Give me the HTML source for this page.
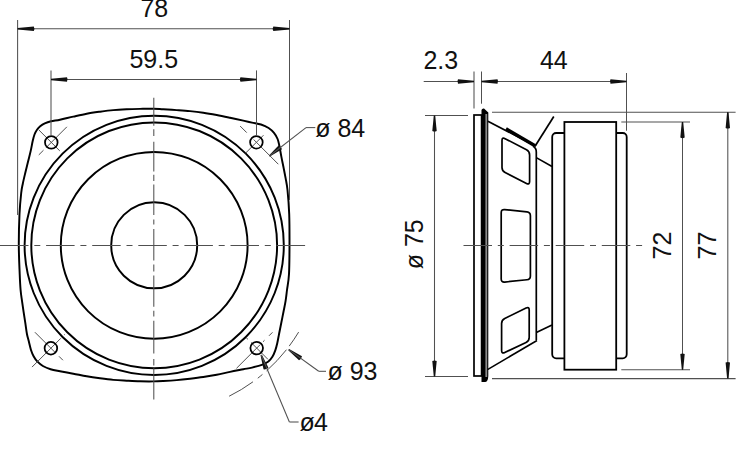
<!DOCTYPE html>
<html><head><meta charset="utf-8"><style>
html,body{margin:0;padding:0;background:#fff;width:750px;height:458px;overflow:hidden}
svg{display:block}
text{font-family:"Liberation Sans",sans-serif;fill:#111}
</style></head><body>
<svg width="750" height="458" viewBox="0 0 750 458">
<path d="M60 119.7 C63.72 118.92 68.85 117.6 73.3 116.6 C77.75 115.6 82.25 114.52 86.7 113.7 C91.15 112.88 95.57 112.3 100 111.7 C104.43 111.1 108.85 110.5 113.3 110.1 C117.75 109.7 122.25 109.5 126.7 109.3 C131.15 109.1 135.57 109 140 108.9 C144.43 108.8 149.42 108.63 153.3 108.7 C157.18 108.77 159.4 109.07 163.3 109.3 C167.2 109.53 172.25 109.8 176.7 110.1 C181.15 110.4 185.57 110.67 190 111.1 C194.43 111.53 198.85 112.05 203.3 112.7 C207.75 113.35 212.25 114.17 216.7 115 C221.15 115.83 225.57 116.77 230 117.7 C234.43 118.63 239.63 119.78 243.3 120.6 C246.97 121.42 249.05 121.95 252 122.6 C254.95 123.25 258.23 123.6 261 124.5 C263.77 125.4 266.43 126.6 268.6 128 C270.77 129.4 272.5 131.07 274 132.9 C275.5 134.73 276.7 136.82 277.6 139 C278.5 141.18 278.78 143.1 279.4 146 C280.02 148.9 280.62 152.85 281.3 156.4 C281.98 159.95 282.78 163.67 283.5 167.3 C284.22 170.93 284.93 174.42 285.6 178.2 C286.27 181.98 286.9 184.03 287.5 190 C288.1 195.97 288.87 204.83 289.2 214 C289.53 223.17 289.53 235 289.5 245 C289.47 255 289.42 266.5 289 274 C288.58 281.5 287.57 285.52 287 290 C286.43 294.48 286.18 297.27 285.6 300.9 C285.02 304.53 284.22 308.15 283.5 311.8 C282.78 315.45 282.03 319.15 281.3 322.8 C280.57 326.45 279.77 330.33 279.1 333.7 C278.43 337.07 277.95 340.17 277.3 343 C276.65 345.83 276.02 348.4 275.2 350.7 C274.38 353 273.53 355 272.4 356.8 C271.27 358.6 270.17 360.15 268.4 361.5 C266.63 362.85 264.53 363.88 261.8 364.9 C259.07 365.92 255.08 366.87 252 367.6 C248.92 368.33 246.97 368.58 243.3 369.3 C239.63 370.02 234.43 370.98 230 371.9 C225.57 372.82 221.15 373.95 216.7 374.8 C212.25 375.65 207.75 376.35 203.3 377 C198.85 377.65 194.43 378.18 190 378.7 C185.57 379.22 181.15 379.72 176.7 380.1 C172.25 380.48 167.2 380.78 163.3 381 C159.4 381.22 157.18 381.35 153.3 381.4 C149.42 381.45 144.43 381.42 140 381.3 C135.57 381.18 131.15 380.93 126.7 380.7 C122.25 380.47 117.75 380.3 113.3 379.9 C108.85 379.5 104.43 378.9 100 378.3 C95.57 377.7 91.15 377.07 86.7 376.3 C82.25 375.53 77.75 374.53 73.3 373.7 C68.85 372.87 63.78 372.03 60 371.3 C56.22 370.57 53.45 370.18 50.6 369.3 C47.75 368.42 45.08 367.27 42.9 366 C40.72 364.73 39.05 363.33 37.5 361.7 C35.95 360.07 34.7 358.2 33.6 356.2 C32.5 354.2 31.73 352.3 30.9 349.7 C30.07 347.1 29.27 343.27 28.6 340.6 C27.93 337.93 27.45 336.67 26.9 333.7 C26.35 330.73 25.85 326.45 25.3 322.8 C24.75 319.15 24.15 315.45 23.6 311.8 C23.05 308.15 22.5 304.53 22 300.9 C21.5 297.27 20.98 294.48 20.6 290 C20.22 285.52 20 281.47 19.7 274 C19.4 266.53 18.83 255.2 18.8 245.2 C18.77 235.2 19.1 222.7 19.5 214 C19.9 205.3 20.65 198.05 21.2 193 C21.75 187.95 22.12 187.07 22.8 183.7 C23.48 180.33 24.43 176.45 25.3 172.8 C26.17 169.15 27.1 165.45 28 161.8 C28.9 158.15 29.92 154.37 30.7 150.9 C31.48 147.43 32.07 143.73 32.7 141 C33.33 138.27 33.78 136.37 34.5 134.5 C35.22 132.63 36.05 131.17 37 129.8 C37.95 128.43 38.9 127.37 40.2 126.3 C41.5 125.23 43 124.23 44.8 123.4 C46.6 122.57 48.47 121.92 51 121.3 C53.53 120.68 56.28 120.48 60 119.7 Z" fill="none" stroke="#000" stroke-width="1.95"/>
<circle cx="154.2" cy="245.3" r="43" fill="none" stroke="#000" stroke-width="1.95"/>
<circle cx="154.2" cy="245.3" r="93.4" fill="none" stroke="#000" stroke-width="1.95"/>
<circle cx="154.2" cy="245.3" r="122.9" fill="none" stroke="#000" stroke-width="1.95"/>
<circle cx="154.2" cy="245.3" r="129.6" fill="none" stroke="#000" stroke-width="1.95"/>
<line x1="0" y1="245.5" x2="305.7" y2="245.5" stroke="#505050" stroke-width="1.05" stroke-linecap="butt" stroke-dasharray="28.5 5.8 6 5.8"/>
<line x1="153.8" y1="97.8" x2="153.8" y2="125.7" stroke="#505050" stroke-width="1.05" stroke-linecap="butt"/>
<line x1="153.8" y1="129.3" x2="153.8" y2="136" stroke="#505050" stroke-width="1.05" stroke-linecap="butt"/>
<line x1="153.8" y1="141.8" x2="153.8" y2="171.4" stroke="#505050" stroke-width="1.05" stroke-linecap="butt"/>
<line x1="153.8" y1="174.8" x2="153.8" y2="181" stroke="#505050" stroke-width="1.05" stroke-linecap="butt"/>
<line x1="153.8" y1="184.5" x2="153.8" y2="215" stroke="#505050" stroke-width="1.05" stroke-linecap="butt"/>
<line x1="153.8" y1="219.4" x2="153.8" y2="224.6" stroke="#505050" stroke-width="1.05" stroke-linecap="butt"/>
<line x1="153.8" y1="229" x2="153.8" y2="260.6" stroke="#505050" stroke-width="1.05" stroke-linecap="butt"/>
<line x1="153.8" y1="264.6" x2="153.8" y2="271.4" stroke="#505050" stroke-width="1.05" stroke-linecap="butt"/>
<line x1="153.8" y1="275.4" x2="153.8" y2="306.8" stroke="#505050" stroke-width="1.05" stroke-linecap="butt"/>
<line x1="153.8" y1="310.7" x2="153.8" y2="316.6" stroke="#505050" stroke-width="1.05" stroke-linecap="butt"/>
<line x1="153.8" y1="320.8" x2="153.8" y2="353.4" stroke="#505050" stroke-width="1.05" stroke-linecap="butt"/>
<line x1="153.8" y1="359" x2="153.8" y2="365.5" stroke="#505050" stroke-width="1.05" stroke-linecap="butt"/>
<line x1="153.8" y1="368.2" x2="153.8" y2="399.6" stroke="#505050" stroke-width="1.05" stroke-linecap="butt"/>
<line x1="46.35" y1="147.35" x2="66.86" y2="126.84" stroke="#505050" stroke-width="1" stroke-linecap="butt"/>
<line x1="38.78" y1="154.92" x2="43.52" y2="150.18" stroke="#505050" stroke-width="1" stroke-linecap="butt"/>
<line x1="59.79" y1="150.89" x2="38.78" y2="129.88" stroke="#505050" stroke-width="1" stroke-linecap="butt"/>
<circle cx="51.3" cy="142.4" r="6.3" fill="#fff" fill-opacity="0" stroke="#000" stroke-width="1.75"/>
<line x1="253.57" y1="139.47" x2="278.32" y2="164.22" stroke="#505050" stroke-width="1" stroke-linecap="butt"/>
<line x1="240.14" y1="126.04" x2="246.71" y2="132.61" stroke="#505050" stroke-width="1" stroke-linecap="butt"/>
<line x1="245.44" y1="153.26" x2="263.47" y2="135.23" stroke="#505050" stroke-width="1" stroke-linecap="butt"/>
<circle cx="256.4" cy="142.3" r="6.3" fill="#fff" fill-opacity="0" stroke="#000" stroke-width="1.75"/>
<line x1="55.14" y1="352.44" x2="34.92" y2="332.22" stroke="#505050" stroke-width="1" stroke-linecap="butt"/>
<line x1="62.92" y1="360.22" x2="59.03" y2="356.33" stroke="#505050" stroke-width="1" stroke-linecap="butt"/>
<line x1="60.8" y1="338.3" x2="32.02" y2="367.08" stroke="#505050" stroke-width="1" stroke-linecap="butt"/>
<line x1="64.69" y1="334.41" x2="63.98" y2="335.12" stroke="#505050" stroke-width="1" stroke-linecap="butt"/>
<circle cx="50.9" cy="348.2" r="6.3" fill="#fff" fill-opacity="0" stroke="#000" stroke-width="1.75"/>
<line x1="260.24" y1="344.56" x2="236.48" y2="368.32" stroke="#505050" stroke-width="1" stroke-linecap="butt"/>
<line x1="264.55" y1="340.25" x2="262.99" y2="341.81" stroke="#505050" stroke-width="1" stroke-linecap="butt"/>
<line x1="272.47" y1="332.33" x2="269" y2="335.8" stroke="#505050" stroke-width="1" stroke-linecap="butt"/>
<line x1="251.04" y1="342.44" x2="268.01" y2="359.41" stroke="#505050" stroke-width="1" stroke-linecap="butt"/>
<line x1="246.09" y1="337.49" x2="247.86" y2="339.26" stroke="#505050" stroke-width="1" stroke-linecap="butt"/>
<circle cx="256.7" cy="348.1" r="6.3" fill="#fff" fill-opacity="0" stroke="#000" stroke-width="1.75"/>
<line x1="17.6" y1="20" x2="17.6" y2="215" stroke="#505050" stroke-width="1.05" stroke-linecap="butt"/>
<line x1="289.5" y1="20" x2="289.5" y2="200" stroke="#505050" stroke-width="1.05" stroke-linecap="butt"/>
<line x1="17.6" y1="28.7" x2="289.5" y2="28.7" stroke="#505050" stroke-width="1.05" stroke-linecap="butt"/>
<path d="M17.6 29.4 L33.8 30.9 Q35 28.7 33.8 26.5 L17.6 28Z" fill="#111"/>
<path d="M289.5 28 L273.3 26.5 Q272.1 28.7 273.3 30.9 L289.5 29.4Z" fill="#111"/>
<text x="154.3" y="17" font-size="25" text-anchor="middle">78</text>
<line x1="51" y1="70.4" x2="51" y2="135.5" stroke="#505050" stroke-width="1.05" stroke-linecap="butt"/>
<line x1="256.5" y1="70.4" x2="256.5" y2="135.5" stroke="#505050" stroke-width="1.05" stroke-linecap="butt"/>
<line x1="51" y1="79.5" x2="256.5" y2="79.5" stroke="#505050" stroke-width="1.05" stroke-linecap="butt"/>
<path d="M51 80.2 L67 81.7 Q68.2 79.5 67 77.3 L51 78.8Z" fill="#111"/>
<path d="M256.5 78.8 L240.5 77.3 Q239.3 79.5 240.5 81.7 L256.5 80.2Z" fill="#111"/>
<text x="153.8" y="67.8" font-size="25" text-anchor="middle">59.5</text>
<path d="M269.83 156.55 L282.01 149.34 Q281.34 146.56 278.79 145.26 L268.97 155.45Z" fill="#111"/>
<line x1="269.4" y1="156" x2="306" y2="127.6" stroke="#505050" stroke-width="1.05" stroke-linecap="butt"/>
<line x1="306" y1="127.6" x2="315.3" y2="127.6" stroke="#505050" stroke-width="1.05" stroke-linecap="butt"/>
<text x="315.2" y="136.7" font-size="25" text-anchor="start">ø 84</text>
<path d="M298.63 332.08 A168.5 168.5 0 0 1 229.12 396.23" fill="none" stroke="#505050" stroke-width="1" stroke-dasharray="16.9 4.5 29 5.5 6 6 28"/>
<path d="M288.28 350.16 L299.02 360.31 Q301.47 359.01 301.98 356.29 L289.12 349.04Z" fill="#111"/>
<line x1="288.7" y1="349.6" x2="318.7" y2="371.3" stroke="#505050" stroke-width="1.05" stroke-linecap="butt"/>
<line x1="318.7" y1="371.3" x2="326" y2="371.3" stroke="#505050" stroke-width="1.05" stroke-linecap="butt"/>
<text x="327.5" y="380" font-size="25" text-anchor="start">ø 93</text>
<path d="M260.54 355.23 L263.55 369.37 Q266.4 369.63 268.45 367.63 L261.86 354.77Z" fill="#111"/>
<line x1="261.2" y1="355" x2="289.4" y2="422" stroke="#505050" stroke-width="1.05" stroke-linecap="butt"/>
<line x1="289.4" y1="422" x2="298.6" y2="422" stroke="#505050" stroke-width="1.05" stroke-linecap="butt"/>
<text x="299.5" y="431" font-size="25" text-anchor="start" letter-spacing="-0.8">ø4</text>
<line x1="474" y1="71.5" x2="474" y2="108.5" stroke="#505050" stroke-width="1.05" stroke-linecap="butt"/>
<line x1="481.5" y1="71.5" x2="481.5" y2="103.7" stroke="#505050" stroke-width="1.05" stroke-linecap="butt"/>
<line x1="626.5" y1="73" x2="626.5" y2="130.7" stroke="#505050" stroke-width="1.05" stroke-linecap="butt"/>
<line x1="423.7" y1="81.5" x2="474" y2="81.5" stroke="#505050" stroke-width="1.05" stroke-linecap="butt"/>
<path d="M474 80.8 L458 79.3 Q456.8 81.5 458 83.7 L474 82.2Z" fill="#111"/>
<line x1="481.5" y1="81.5" x2="626.5" y2="81.5" stroke="#505050" stroke-width="1.05" stroke-linecap="butt"/>
<path d="M481.5 82.2 L497.5 83.7 Q498.7 81.5 497.5 79.3 L481.5 80.8Z" fill="#111"/>
<path d="M626.5 80.8 L610.5 79.3 Q609.3 81.5 610.5 83.7 L626.5 82.2Z" fill="#111"/>
<text x="440.8" y="68.8" font-size="25" text-anchor="middle">2.3</text>
<text x="553.8" y="68.8" font-size="25" text-anchor="middle">44</text>
<line x1="425" y1="115.5" x2="468" y2="115.5" stroke="#505050" stroke-width="1.05" stroke-linecap="butt"/>
<line x1="425" y1="376.5" x2="468" y2="376.5" stroke="#505050" stroke-width="1.05" stroke-linecap="butt"/>
<line x1="434.5" y1="115.5" x2="434.5" y2="376.5" stroke="#505050" stroke-width="1.05" stroke-linecap="butt"/>
<path d="M433.8 115.5 L432.3 131 Q434.5 132.2 436.7 131 L435.2 115.5Z" fill="#111"/>
<path d="M435.2 376.5 L436.7 361 Q434.5 359.8 432.3 361 L433.8 376.5Z" fill="#111"/>
<text x="423.5" y="244.3" font-size="25" text-anchor="middle" transform="rotate(-90 423.5 244.3)">ø 75</text>
<line x1="621.3" y1="122" x2="690" y2="122" stroke="#505050" stroke-width="1.05" stroke-linecap="butt"/>
<line x1="621.3" y1="369.7" x2="690" y2="369.7" stroke="#505050" stroke-width="1.05" stroke-linecap="butt"/>
<line x1="682.5" y1="122" x2="682.5" y2="369.7" stroke="#505050" stroke-width="1.05" stroke-linecap="butt"/>
<path d="M681.8 122 L680.3 137.6 Q682.5 138.8 684.7 137.6 L683.2 122Z" fill="#111"/>
<path d="M683.2 369.7 L684.7 354 Q682.5 352.8 680.3 354 L681.8 369.7Z" fill="#111"/>
<text x="671.3" y="245.6" font-size="25" text-anchor="middle" transform="rotate(-90 671.3 245.6)">72</text>
<line x1="492" y1="112.3" x2="735.6" y2="112.3" stroke="#505050" stroke-width="1.05" stroke-linecap="butt"/>
<line x1="492" y1="378.6" x2="735.6" y2="378.6" stroke="#505050" stroke-width="1.05" stroke-linecap="butt"/>
<line x1="727.8" y1="112.3" x2="727.8" y2="378.6" stroke="#505050" stroke-width="1.05" stroke-linecap="butt"/>
<path d="M727.1 112.3 L725.6 128 Q727.8 129.2 730 128 L728.5 112.3Z" fill="#111"/>
<path d="M728.5 378.6 L730 362.6 Q727.8 361.4 725.6 362.6 L727.1 378.6Z" fill="#111"/>
<text x="716" y="245.6" font-size="25" text-anchor="middle" transform="rotate(-90 716 245.6)">77</text>
<rect x="474" y="115" width="7.6" height="261" fill="none" stroke="#000" stroke-width="1.7"/>
<path d="M481.5 110 Q482 108.2 484 108.5 L488.3 112.5 L488.3 376 Q488 382 485 382 L481.5 382 Z" fill="#000"/>
<rect x="485.4" y="114" width="1.8" height="263" fill="#8a8a8a"/>
<line x1="487.9" y1="121.2" x2="536" y2="146.3" stroke="#000" stroke-width="1.6" stroke-linecap="butt"/>
<line x1="506" y1="128.8" x2="535" y2="145.8" stroke="#000" stroke-width="3.4" stroke-linecap="butt"/>
<line x1="535.5" y1="145.5" x2="553.8" y2="116.5" stroke="#000" stroke-width="1.7" stroke-linecap="butt"/>
<line x1="487.5" y1="369.6" x2="537" y2="340.5" stroke="#000" stroke-width="1.6" stroke-linecap="butt"/>
<path d="M533 146.3 Q536.3 148 536.3 152 L536.3 340" fill="none" stroke="#000" stroke-width="1.7"/>
<line x1="536.3" y1="157.6" x2="552" y2="166.5" stroke="#000" stroke-width="1.6" stroke-linecap="butt"/>
<line x1="536.3" y1="332.5" x2="552" y2="325" stroke="#000" stroke-width="1.6" stroke-linecap="butt"/>
<path d="M502 140.5 Q502 137 505.1 138.63 L526.5 149.87 Q529.6 151.5 529.6 155 L529.6 181.5 Q529.6 185 526.48 183.42 L505.12 172.58 Q502 171 502 167.5 Z" fill="none" stroke="#000" stroke-width="1.7"/>
<path d="M501.2 212.7 Q501.2 209.2 504.68 209.56 L526.92 211.84 Q530.4 212.2 530.4 215.7 L530.4 275.9 Q530.4 279.4 526.92 279.76 L504.68 282.04 Q501.2 282.4 501.2 278.9 Z" fill="none" stroke="#000" stroke-width="1.7"/>
<path d="M501.6 323.5 Q501.6 320 504.74 318.46 L526.06 308.04 Q529.2 306.5 529.2 310 L529.2 337.5 Q529.2 341 526.03 342.49 L504.77 352.51 Q501.6 354 501.6 350.5 Z" fill="none" stroke="#000" stroke-width="1.7"/>
<rect x="552.2" y="133" width="74.5" height="225.3" rx="4" fill="#fff" stroke="#000" stroke-width="1.8"/>
<rect x="564.4" y="122" width="51.8" height="247.7" fill="#fff" stroke="#000" stroke-width="1.8"/>
<line x1="463.5" y1="245.5" x2="642.5" y2="245.5" stroke="#505050" stroke-width="1.05" stroke-linecap="butt" stroke-dasharray="28.5 5.8 6 5.8"/>
</svg>
</body></html>
